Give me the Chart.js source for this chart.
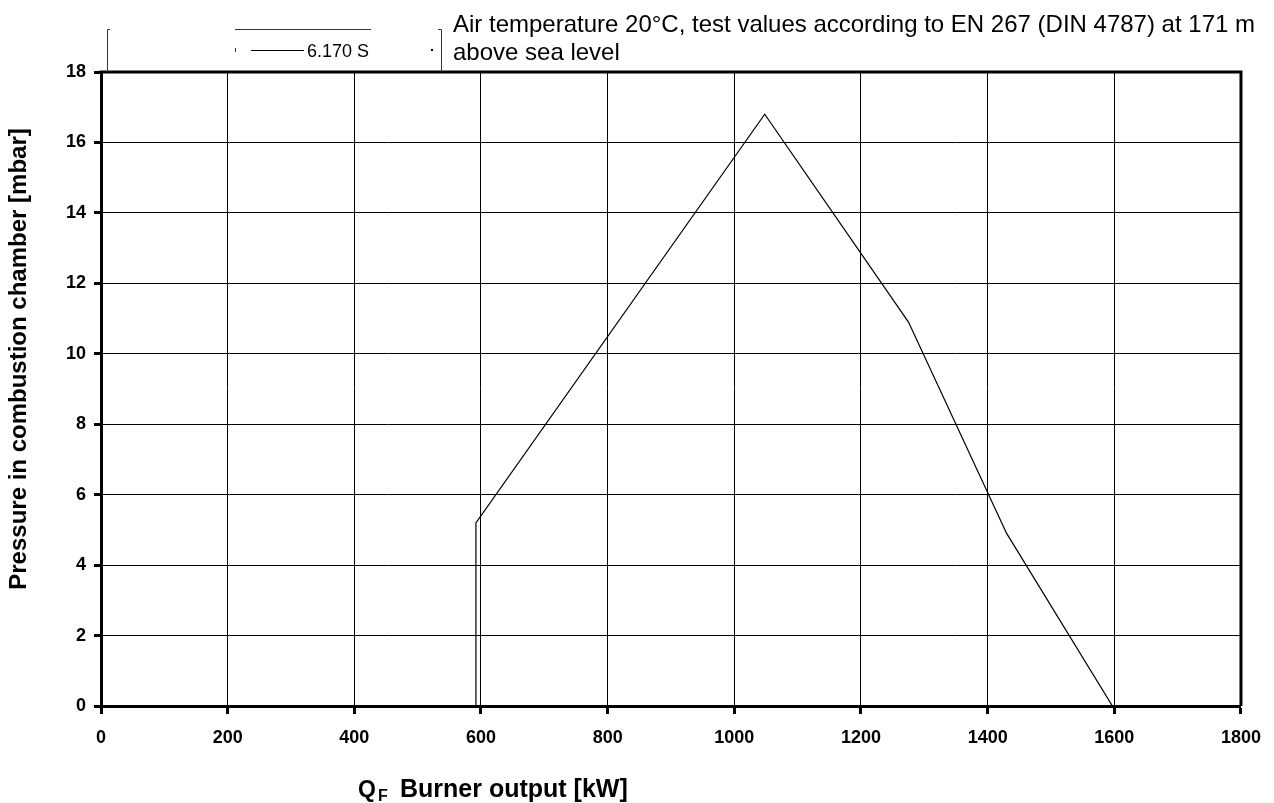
<!DOCTYPE html>
<html><head><meta charset="utf-8">
<script src="https://cdn.jsdelivr.net/npm/chart.js@4.4.0/dist/chart.umd.min.js"></script>
<style>html,body{margin:0;padding:0;background:#fff;} canvas{display:block;}</style>
</head><body>
<canvas id="c" width="1274" height="803"></canvas>
<script>
// ---- data ----
const burnerOutput = [592, 592, 1048, 1275, 1430, 1597];     // kW
const chamberPressure = [0, 5.2, 16.8, 10.9, 4.9, 0];        // mbar
const seriesName = '6.170 S';
const titleLines = ['Air temperature 20°C, test values according to EN 267 (DIN 4787) at 171 m', 'above sea level'];
const xTitleMain = 'Q', xTitleSub = 'F', xTitleRest = 'Burner output [kW]';
const yTitleText = 'Pressure in combustion chamber [mbar]';
const xRange = [0, 1800], xStep = 200;
const yRange = [0, 18], yStep = 2;

const FONT = "'Liberation Sans', Arial, sans-serif";

const decor = {
  id: 'decor',
  afterDraw(chart) {
    const ctx = chart.ctx, a = chart.chartArea;
    ctx.save();
    // frame top & right
    ctx.strokeStyle = '#000'; ctx.lineWidth = 3;
    ctx.beginPath();
    ctx.moveTo(a.left - 1.5, a.top); ctx.lineTo(a.right, a.top); ctx.lineTo(a.right, a.bottom);
    ctx.stroke();

    // title
    ctx.fillStyle = '#000';
    ctx.font = '24px ' + FONT;
    ctx.textBaseline = 'alphabetic'; ctx.textAlign = 'left';
    ctx.fillText(titleLines[0], 453, 32);
    ctx.fillText(titleLines[1], 453, 60);

    // legend box
    ctx.strokeStyle = '#333'; ctx.lineWidth = 1;
    ctx.beginPath();
    ctx.moveTo(110, 29.5); ctx.lineTo(107.5, 29.5); ctx.lineTo(107.5, a.top);
    ctx.moveTo(235, 29.5); ctx.lineTo(371, 29.5);
    ctx.moveTo(438, 29.5); ctx.lineTo(441.5, 29.5); ctx.lineTo(441.5, a.top);
    ctx.moveTo(235.5, 48); ctx.lineTo(235.5, 52);
    ctx.stroke();
    ctx.fillStyle = '#000';
    ctx.fillRect(431, 49, 2, 2);
    ctx.strokeStyle = '#000';
    ctx.beginPath(); ctx.moveTo(251, 50.5); ctx.lineTo(304, 50.5); ctx.stroke();
    ctx.font = '18px ' + FONT;
    ctx.fillText(seriesName, 307, 57);

    // x title
    ctx.font = 'bold 23px ' + FONT;
    ctx.fillText(xTitleMain, 358, 797);
    const qw = ctx.measureText(xTitleMain).width;
    ctx.font = 'bold 16px ' + FONT;
    ctx.fillText(xTitleSub, 358 + qw + 2, 801);
    ctx.font = 'bold 25px ' + FONT;
    ctx.fillText(xTitleRest, 400, 797);

    // y title
    ctx.translate(19, 359);
    ctx.rotate(-Math.PI / 2);
    ctx.textAlign = 'center'; ctx.textBaseline = 'middle';
    ctx.font = 'bold 24px ' + FONT;
    ctx.fillText(yTitleText, 0, 0);
    ctx.restore();
  }
};

new Chart(document.getElementById('c'), {
  type: 'scatter',
  data: {
    datasets: [{
      label: seriesName,
      data: burnerOutput.map((x, i) => ({ x, y: chamberPressure[i] })),
      showLine: true,
      borderColor: '#000',
      borderWidth: 1.2,
      pointRadius: 0,
      tension: 0,
      fill: false
    }]
  },
  options: {
    responsive: false,
    animation: false,
    devicePixelRatio: 1,
    layout: { padding: { top: 72, right: 33, left: 0, bottom: 0 } },
    plugins: { legend: { display: false }, title: { display: false }, tooltip: { enabled: false } },
    scales: {
      x: {
        type: 'linear', min: xRange[0], max: xRange[1],
        afterFit(s) { s.height = 97; },
        ticks: { stepSize: xStep, color: '#000', padding: 13, callback: v => String(v),
                 font: { family: FONT, size: 18, weight: 'bold' } },
        grid: { color: '#000', lineWidth: 1, tickLength: 8, tickWidth: 3, tickColor: '#000' },
        border: { display: true, color: '#000', width: 3 }
      },
      y: {
        type: 'linear', min: yRange[0], max: yRange[1],
        afterFit(s) { s.width = 101; },
        ticks: { stepSize: yStep, color: '#000', padding: 8, callback: v => String(v),
                 font: { family: FONT, size: 18, weight: 'bold' } },
        grid: { color: '#000', lineWidth: 1, tickLength: 7, tickWidth: 3, tickColor: '#000' },
        border: { display: true, color: '#000', width: 3 }
      }
    }
  },
  plugins: [decor]
});
</script>
</body></html>
